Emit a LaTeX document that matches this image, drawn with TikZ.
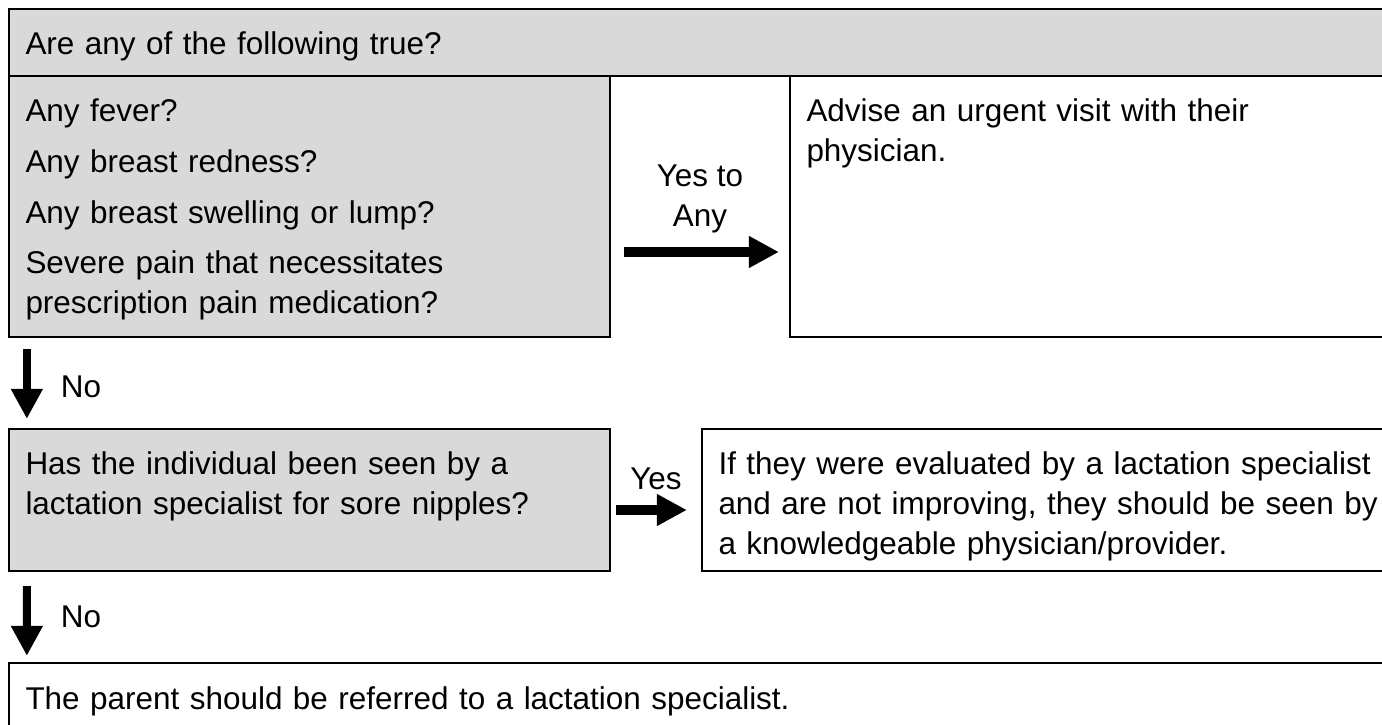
\documentclass[tikz,border=0pt]{standalone}
\usepackage{fontspec}
\setmainfont{Liberation Sans}
\usetikzlibrary{arrows.meta}
\definecolor{boxgray}{HTML}{D9D9D9}
\tikzstyle{qbox} = [rectangle, draw=black, line width=1.3pt, fill=boxgray, align=left, inner xsep=0.33cm, inner ysep=0.2cm, text height=0.72cm]
\tikzstyle{abox} = [rectangle, draw=black, line width=1.3pt, fill=white, align=left, inner xsep=0.33cm, inner ysep=0.2cm, text height=0.72cm]
\tikzstyle{harrow} = [line width=0.2cm, -{Triangle[length=0.6cm, width=0.6cm]}]
\tikzstyle{varrow} = [line width=0.16cm, -{Triangle[length=0.6cm, width=0.6cm]}]
\tikzstyle{lbl} = [inner sep=0pt]
\begin{document}
\begin{tikzpicture}[node distance=2cm, font=\fontsize{17.9pt}{22.7pt}\selectfont]
\useasboundingbox (0,0) rectangle (27.64,-14.5);
\node (ask) [qbox, minimum width=27.54cm, text width=26.88cm, minimum height=1.34cm, text depth=0.22cm] at (13.95,-0.85) {Are any of the following true?};
\node (signs) [qbox, below of = ask, xshift = -7.76cm, yshift = -1.28cm, minimum width=12.02cm, text width=11.36cm, minimum height=5.22cm, text depth=4.1cm]{Any fever?\\[0.22cm]Any breast redness?\\[0.22cm]Any breast swelling or lump?\\[0.2cm]Severe pain that necessitates\\prescription pain medication?};
\node (urgent) [abox, right of = signs, xshift = 13.57cm, minimum width=11.92cm, text width=11.26cm, minimum height=5.22cm, text depth=4.1cm]{Advise an urgent visit with their\\physician.};
\node (seen) [qbox, below of = signs, yshift = -3.87cm, minimum width=12.02cm, text width=11.36cm, minimum height=2.84cm, text depth=1.72cm]{Has the individual been seen by a\\lactation specialist for sore nipples?};
\node (improve) [abox, right of = seen, xshift = 13.18cm, minimum width=14.66cm, text width=14cm, minimum height=2.84cm, text depth=1.72cm]{If they were evaluated by a lactation specialist\\and are not improving, they should be seen by\\a knowledgeable physician/provider.};
\node (refer) [abox, below of = seen, xshift = 7.76cm, yshift = -1.9cm, minimum width=27.54cm, text width=26.88cm, minimum height=1.28cm, text depth=0.16cm]{The parent should be referred to a lactation specialist.};
\draw [harrow, shorten <=0.26cm, shorten >=0.2cm] ([yshift=-0.91cm]signs.east) -- node[lbl, align=center, yshift=1.06cm]{Yes to\\Any} ([yshift=-0.91cm]urgent.west);
\draw [harrow, shorten <=0.1cm, shorten >=0.28cm] ([yshift=-0.2cm]seen.east) -- node[lbl, yshift=0.62cm]{Yes} ([yshift=-0.2cm]improve.west);
\draw [varrow, shorten <=0.22cm, shorten >=0.18cm] ([xshift=0.38cm]signs.south west) -- node[lbl, anchor=west, xshift=0.6cm, yshift=-0.08cm]{No} ([xshift=0.38cm]seen.north west);
\draw [varrow, shorten <=0.28cm, shorten >=0.12cm] ([xshift=0.38cm]seen.south west) -- node[lbl, anchor=west, xshift=0.6cm]{No} ([xshift=0.38cm]refer.north west);
\end{tikzpicture}
\end{document}
